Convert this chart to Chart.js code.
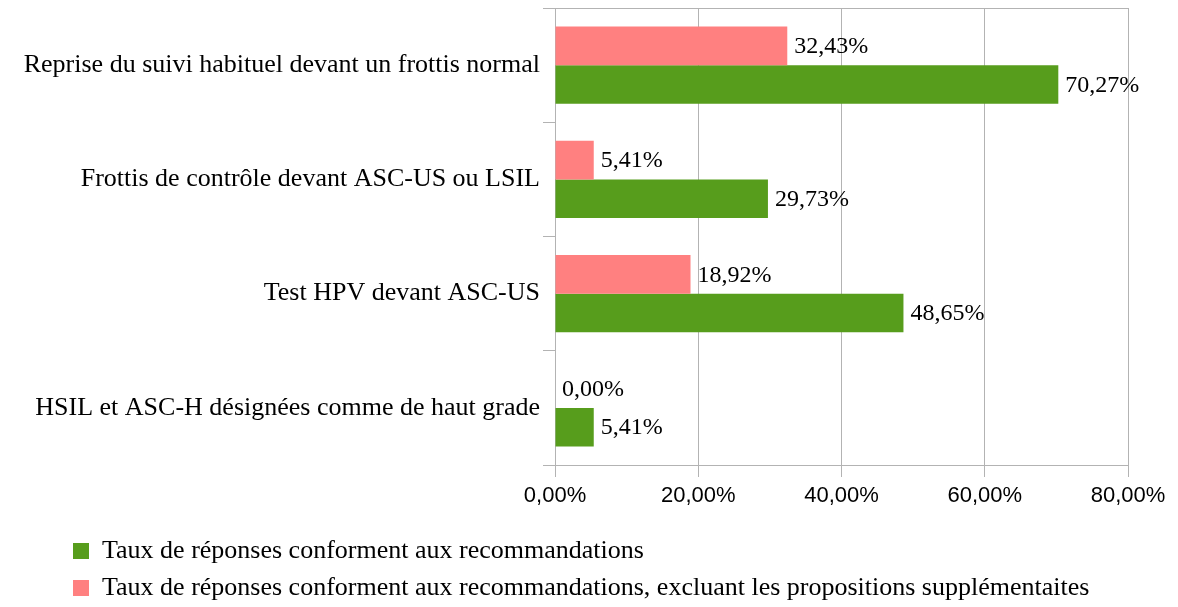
<!DOCTYPE html>
<html>
<head>
<meta charset="utf-8">
<script src="https://cdn.jsdelivr.net/npm/chart.js@4/dist/chart.umd.min.js"></script>
<style>
  html, body { margin: 0; padding: 0; background: #fff; }
  #wrap { width: 1178px; height: 607px; position: relative; }
</style>
</head>
<body>
<div id="wrap"><canvas id="frottisChart"></canvas></div>
<script>
// Categories (top to bottom)
const categories = [
    'Reprise du suivi habituel devant un frottis normal',
    'Frottis de contrôle devant ASC-US ou LSIL',
    'Test HPV devant ASC-US',
    'HSIL et ASC-H désignées comme de haut grade'
];

// Series values (%)
const tauxConformes = [70.27, 29.73, 48.65, 5.41];
const tauxExcluant = [32.43, 5.41, 18.92, 0.00];

// X axis ticks (%)
const xTicks = [0, 20, 40, 60, 80];

const labelConformes = 'Taux de réponses conforment aux recommandations';
const labelExcluant = 'Taux de réponses conforment aux recommandations, excluant les propositions supplémentaites';

const serif = '"Liberation Serif", "Times New Roman", serif';
const gridGray = '#b3b3b3';

function formatPct(v) {
    return v.toFixed(2).replace('.', ',') + '%';
}

// Petites étiquettes de valeur à droite de chaque barre
const valueLabels = {
    id: 'valueLabels',
    afterDatasetsDraw(chart) {
        const ctx = chart.ctx;
        ctx.save();
        ctx.font = '24px ' + serif;
        ctx.fillStyle = '#000';
        ctx.textAlign = 'left';
        ctx.textBaseline = 'middle';
        chart.data.datasets.forEach(function(ds, i) {
            const meta = chart.getDatasetMeta(i);
            meta.data.forEach(function(bar, j) {
                ctx.fillText(formatPct(ds.data[j]), bar.x + 7, bar.y + 1);
            });
        });
        ctx.restore();
    }
};

// décale la légende vers la droite (elle est alignée à gauche)
const legendShift = {
    id: 'legendShift',
    afterLayout(chart) {
        if (chart.legend) {
            chart.legend.left += 62;
        }
    }
};

const ctx = document.getElementById('frottisChart').getContext('2d');

new Chart(ctx, {
    type: 'bar',
    data: {
        labels: categories,
        datasets: [
            {
                label: labelExcluant,
                data: tauxExcluant,
                backgroundColor: '#ff8080',
                borderWidth: 0
            },
            {
                label: labelConformes,
                data: tauxConformes,
                backgroundColor: '#579d1c',
                borderWidth: 0
            }
        ]
    },
    options: {
        indexAxis: 'y',
        responsive: true,
        maintainAspectRatio: false,
        animation: false,
        layout: {
            padding: { left: 0, right: 50, top: 8, bottom: -4 }
        },
        datasets: {
            bar: {
                categoryPercentage: 0.675,
                barPercentage: 1.0
            }
        },
        scales: {
            x: {
                min: 0,
                max: 80,
                afterBuildTicks: function(scale) {
                    scale.ticks = xTicks.map(function(v) { return { value: v }; });
                },
                afterFit: function(scale) {
                    scale.height = 62;
                    scale.paddingLeft = 0;
                    scale.paddingRight = 0;
                },
                grid: {
                    color: gridGray,
                    tickColor: gridGray,
                    tickLength: 12,
                    lineWidth: 1
                },
                border: { color: gridGray },
                ticks: {
                    color: '#000',
                    padding: 6,
                    font: { family: '"Liberation Sans", Arial, sans-serif', size: 22 },
                    callback: function(value) { return formatPct(value); }
                }
            },
            y: {
                afterFit: function(scale) {
                    scale.width = 555;
                    scale.paddingTop = 0;
                    scale.paddingBottom = 0;
                },
                grid: {
                    offset: true,
                    tickLength: 12,
                    tickColor: gridGray,
                    color: function(c) {
                        return (c.type === 'tick' && c.index === 0) ? gridGray : 'rgba(0,0,0,0)';
                    }
                },
                border: { color: gridGray },
                ticks: {
                    color: '#000',
                    padding: 3,
                    font: { family: serif, size: 26 }
                }
            }
        },
        plugins: {
            legend: {
                position: 'bottom',
                align: 'start',
                reverse: true,
                labels: {
                    color: '#000',
                    boxWidth: 16,
                    boxHeight: 16,
                    padding: 11,
                    font: { family: serif, size: 26 }
                }
            },
            tooltip: { enabled: false }
        }
    },
    plugins: [valueLabels, legendShift]
});
</script>
</body>
</html>
